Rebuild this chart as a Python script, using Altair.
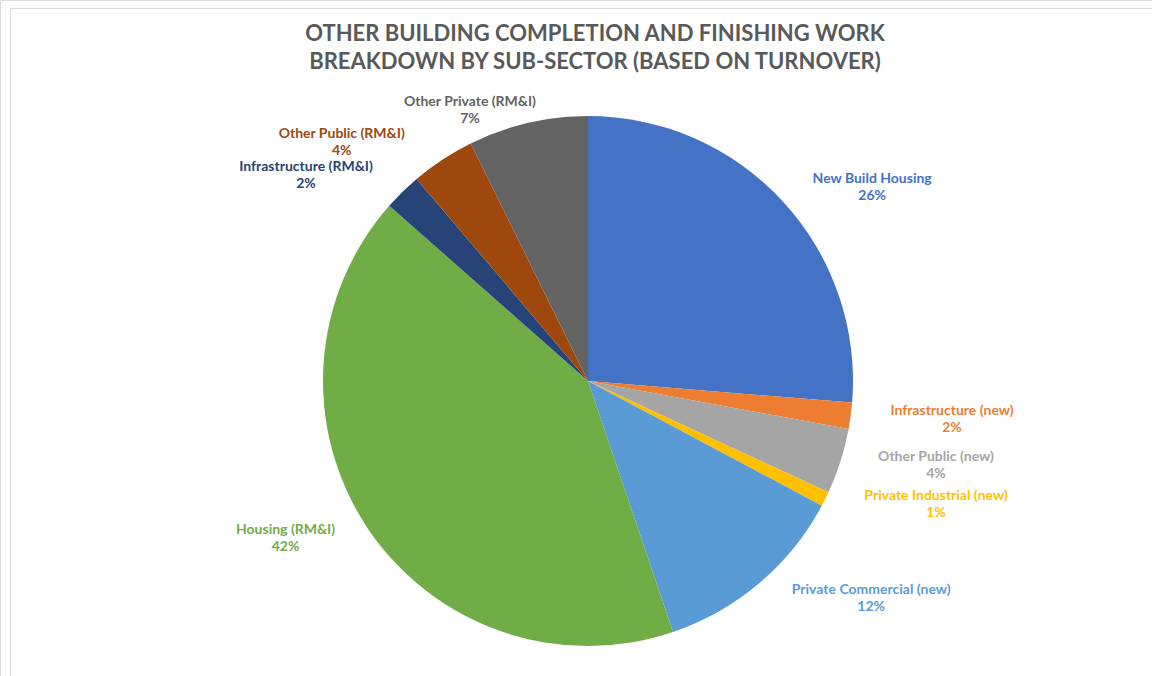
import math
import altair as alt
import pandas as pd

# ---- data ----
categories = [
    "New Build Housing",
    "Infrastructure (new)",
    "Other Public (new)",
    "Private Industrial (new)",
    "Private Commercial (new)",
    "Housing (RM&I)",
    "Infrastructure (RM&I)",
    "Other Public (RM&I)",
    "Other Private (RM&I)",
]
shares = [26.3, 1.6, 4.0, 0.9, 12.0, 41.7, 2.3, 3.9, 7.3]
pct_labels = ["26%", "2%", "4%", "1%", "12%", "42%", "2%", "4%", "7%"]
colors = ["#4472C4", "#ED7D31", "#A5A5A5", "#FFC000", "#5B9BD5",
          "#70AD47", "#264478", "#9E480E", "#636363"]

title_lines = ["OTHER BUILDING COMPLETION  AND FINISHING WORK",
               "BREAKDOWN BY SUB-SECTOR (BASED ON TURNOVER)"]

# ---- layout (label placement, polar around pie centre) ----
label_angle_deg = [55.7, 96.0, 103.6, 109.4, 127.5, 242.5, 306.1, 314.1, 336.5]
label_radius = [344, 366, 358, 369, 357, 341, 349, 343, 296]
CX, CY, R = 588, 381, 265
FONT = "Lato"

df = pd.DataFrame({
    "idx": list(range(len(categories))),
    "category": categories,
    "share": shares,
    "pct": pct_labels,
    "lab_theta": [math.radians(a) for a in label_angle_deg],
    "lab_r": label_radius,
})

color_scale = alt.Scale(domain=categories, range=colors)

base = alt.Chart(df)

pie = base.mark_arc(outerRadius=R, stroke=None).encode(
    theta=alt.Theta("share:Q", stack=True),
    color=alt.Color("category:N", scale=color_scale, legend=None),
    order=alt.Order("idx:Q"),
    x=alt.value(CX),
    y=alt.value(CY),
)

name_text = base.mark_text(font=FONT, fontSize=14, fontWeight="bold", dy=-8).encode(
    theta=alt.Theta("lab_theta:Q", scale=None, stack=None),
    radius=alt.Radius("lab_r:Q", scale=None),
    text="category:N",
    color=alt.Color("category:N", scale=color_scale, legend=None),
    x=alt.value(CX),
    y=alt.value(CY),
)

pct_text = base.mark_text(font=FONT, fontSize=14, fontWeight="bold", dy=9).encode(
    theta=alt.Theta("lab_theta:Q", scale=None, stack=None),
    radius=alt.Radius("lab_r:Q", scale=None),
    text="pct:N",
    color=alt.Color("category:N", scale=color_scale, legend=None),
    x=alt.value(CX),
    y=alt.value(CY),
)

title = alt.Chart(pd.DataFrame({"t": [title_lines]})).mark_text(
    font=FONT, fontSize=22, fontWeight="bold", color="#595959",
    lineHeight=28, baseline="top", align="center",
).encode(text="t", x=alt.value(595), y=alt.value(24))

frame_top = alt.Chart(pd.DataFrame({"a": [0]})).mark_rule(color="#D9D9D9", strokeWidth=1).encode(
    x=alt.value(10), x2=alt.value(1152), y=alt.value(8.5))
frame_left = alt.Chart(pd.DataFrame({"a": [0]})).mark_rule(color="#D9D9D9", strokeWidth=1).encode(
    x=alt.value(10.5), y=alt.value(8), y2=alt.value(676))

chart = alt.layer(frame_top, frame_left, pie, name_text, pct_text, title).properties(
    width=1152, height=676,
    autosize=alt.AutoSizeParams(type="none"),
    padding=0,
).configure_view(stroke=None).configure(background="white")

chart.save("out.html", embed_options={"renderer": "svg", "actions": False})
